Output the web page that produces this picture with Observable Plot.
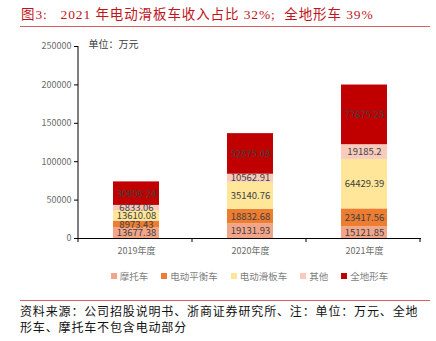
<!DOCTYPE html>
<html><head><meta charset="utf-8">
<script src="https://cdn.jsdelivr.net/npm/d3@7"></script>
<script src="https://cdn.jsdelivr.net/npm/@observablehq/plot@0.6"></script>
<style>
body{margin:0;background:#fff;width:436px;height:341px;position:relative;overflow:hidden;font-family:"Liberation Serif","Noto Sans CJK SC",serif;}
#title{position:absolute;left:21px;top:3px;font-size:13.5px;letter-spacing:0.9px;color:#c0141b;white-space:pre;}
#rule1{position:absolute;left:20px;top:26px;width:410px;height:1px;background:#d8605f;}
#chart{position:absolute;left:0;top:30px;}
#legend{position:absolute;left:78px;top:269px;width:343px;display:flex;justify-content:center;gap:13px;font-family:"Noto Sans CJK SC",sans-serif;font-size:9.5px;color:#7f7f7f;}
#legend span.sw{display:inline-block;width:6px;height:6px;margin-right:3px;vertical-align:middle;position:relative;top:-1px;}
#rule2{position:absolute;left:20px;top:300px;width:410px;height:1px;background:#d8605f;}
#source{position:absolute;left:20px;top:303px;font-size:12px;letter-spacing:0.85px;line-height:16px;color:#111;font-family:"Noto Sans CJK SC",sans-serif;white-space:pre;}
</style></head><body>
<div id="title">图3:   2021 年电动滑板车收入占比 32%;  全地形车 39%</div>
<div id="rule1"></div>
<div id="chart"></div>
<div id="legend"></div>
<div id="rule2"></div>
<div id="source">资料来源：公司招股说明书、浙商证券研究所、注：单位：万元、全地
形车、摩托车不包含电动部分</div>
<script>
const years = ["2019年度", "2020年度", "2021年度"];
const series = ["摩托车", "电动平衡车", "电动滑板车", "其他", "全地形车"];
const moto = [13677.38, 19131.93, 15121.85];
const balance = [8973.43, 18832.68, 23417.56];
const scooter = [13610.08, 35140.76, 64429.39];
const other = [6833.06, 10562.91, 19185.2];
const atv = [30606.24, 52875.08, 77675.25];
const colors = ["#F2A589", "#ED7D31", "#FFE699", "#F8CBBD", "#C00000"];
const yTicks = [0, 50000, 100000, 150000, 200000, 250000];
const unitText = "单位：万元";

const seriesValues = [moto, balance, scooter, other, atv];
const data = [];
years.forEach((yr, i) => series.forEach((s, j) => data.push({year: yr, series: s, value: seriesValues[j][i]})));

const plot = Plot.plot({
  width: 436, height: 230,
  marginLeft: 78, marginRight: 15, marginTop: 16, marginBottom: 22,
  style: {fontFamily: "'Noto Sans CJK SC', sans-serif", fontSize: "9px", color: "#595959", background: "transparent", overflow: "visible"},
  x: {domain: years, paddingInner: 0.6, paddingOuter: 0.3, label: null, axis: null},
  y: {domain: [0, 250000], label: null, axis: null},
  color: {domain: series, range: colors},
  marks: [
    Plot.barY(data, {x: "year", y: "value", fill: "series", order: series}),
    Plot.text(data, Plot.stackY({x: "year", y: "value", z: "series", order: series, text: d => String(d.value), fill: "#404040", fontSize: 9.5})),
    Plot.axisY({ticks: yTicks, tickSize: 4, tickPadding: 3, tickFormat: d => String(d), stroke: "#000", fill: "#6b6b6b", label: null, fontSize: 9}),
    Plot.axisX({tickSize: 0, tickPadding: 9, label: null, fill: "#6b6b6b", fontSize: 9}),
    Plot.ruleY([0], {stroke: "#000", strokeWidth: 1}),
    Plot.text([unitText], {frameAnchor: "top-left", dx: 10, dy: -6, fill: "#404040", fontSize: 10})
  ]
});
document.getElementById("chart").appendChild(plot);

// axis line and between-category ticks from scales
const xs = plot.scale("x"), ys = plot.scale("y");
const svg = d3.select(plot);
const x0 = xs.range[0];
svg.append("line").attr("x1", x0).attr("x2", x0).attr("y1", ys.apply(0)).attr("y2", ys.apply(250000)).attr("stroke", "#000");
for (let i = 0; i <= years.length; i++) {
  const xx = x0 + i * xs.step;
  svg.append("line").attr("x1", xx).attr("x2", xx).attr("y1", ys.apply(0)).attr("y2", ys.apply(0) + 4).attr("stroke", "#000");
}

const lg = document.getElementById("legend");
series.forEach((s, j) => {
  const it = document.createElement("div");
  it.innerHTML = `<span class="sw" style="background:${colors[j]}"></span>${s}`;
  lg.appendChild(it);
});
</script>
</body></html>
